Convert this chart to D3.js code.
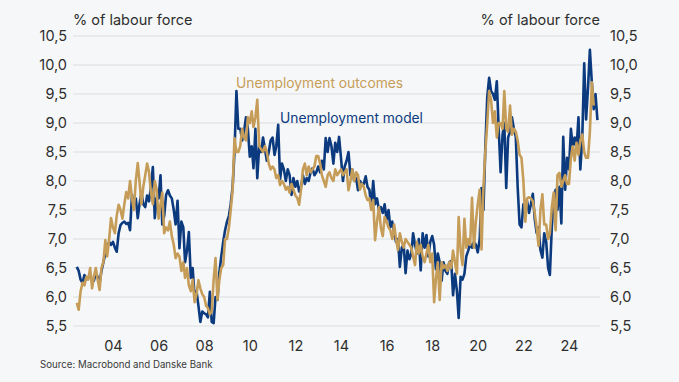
<!DOCTYPE html>
<html>
<head>
<meta charset="utf-8">
<script src="https://cdn.jsdelivr.net/npm/d3@7"></script>
<style>
  body { margin: 0; background: #f6f7f8; }
  svg { display: block; font-family: Inter, "Noto Sans", sans-serif; }
</style>
</head>
<body>
<svg id="chart" width="679" height="382"></svg>
<script>
// Monthly series, first value = June 2002
var startYear = 2002, startMonth = 5;

// Unemployment model (navy)
var modelValues = [
  6.52, 6.45, 6.3, 6.24, 6.38, 6.3, 6.35,
  6.35, 6.3, 6.28, 6.4, 6.35, 6.24, 6.45, 6.6, 6.75, 6.85, 6.95, 6.9,
  6.95, 6.85, 6.78, 7.1, 7.24, 7.28, 7.3, 7.26, 7.28, 7.15, 7.76, 7.6,
  7.7, 7.36, 7.6, 7.8, 7.6, 7.55, 7.75, 7.65, 7.9, 8.24, 7.36, 7.7,
  7.7, 8.1, 7.25, 7.4, 7.76, 7.84, 7.75, 7.7, 7.5, 7.25, 7.66, 6.84,
  7.3, 7.2, 6.6, 6.8, 7.12, 6.33, 6.5, 6.0, 6.1, 5.85, 5.57, 5.75,
  5.72, 5.7, 5.65, 6.09, 5.57, 5.55, 6.0, 5.95, 6.43, 6.7, 6.95, 7.15,
  7.3, 7.4, 7.6, 7.9, 8.5, 9.55, 8.9, 8.9, 8.7, 8.85, 9.1, 8.9,
  8.42, 8.6, 8.22, 8.9, 8.05, 8.6, 8.5, 8.75, 8.55, 8.35, 8.5, 8.7,
  8.75, 8.45, 8.6, 8.97, 8.03, 8.3, 8.2, 8.0, 8.2, 8.1, 7.76, 8.05,
  7.9, 8.0, 7.82, 7.9, 8.1, 7.95, 8.05, 8.0, 8.15, 8.22, 8.1, 8.15,
  8.25, 8.15, 8.35, 8.2, 8.74, 8.5, 8.74, 8.6, 8.3, 8.66, 8.5, 8.76,
  8.4, 8.0, 8.25, 8.35, 8.5, 8.1, 8.2, 8.0, 8.05, 7.84, 8.0, 7.95,
  7.95, 8.08, 7.9, 7.85, 7.55, 8.0, 7.6, 7.7, 7.5, 7.55, 7.45, 7.6,
  7.33, 7.5, 7.2, 7.3, 7.1, 6.95, 7.0, 6.52, 6.85, 6.9, 6.41, 6.8,
  6.65, 6.75, 7.1, 6.9, 6.75, 7.0, 6.46, 7.1, 6.85, 7.07, 6.7, 6.95,
  7.05, 6.9, 6.48, 6.75, 6.6, 6.28, 6.6, 6.45, 6.4, 6.6, 6.62, 6.03,
  6.4, 6.1, 5.64, 6.35, 6.3, 6.4, 6.7, 6.8, 6.92, 6.85, 6.95, 6.9,
  6.77, 7.0, 7.88, 7.5, 8.57, 9.45, 9.78, 9.55, 9.5, 9.4, 9.72, 8.9,
  8.15, 8.8, 9.0, 7.88, 8.75, 8.85, 9.1, 8.9, 8.76, 7.9, 7.25, 7.2,
  7.6, 7.55, 7.65, 7.45, 7.6, 7.78, 7.35, 7.1, 7.2, 6.81, 6.68, 7.1,
  6.95, 6.5, 6.38, 7.2, 7.68, 7.85, 7.5, 7.9, 7.27, 8.76, 7.85, 8.4,
  8.2, 8.9, 8.6, 8.75, 8.55, 9.1, 8.2, 8.75, 10.03, 9.06, 9.6, 10.26,
  9.7, 9.24, 9.5, 9.05
];

// Unemployment outcomes (gold)
var outcomeValues = [
  5.9, 5.78, 6.1, 6.25, 6.2, 6.35, 6.3,
  6.5, 6.15, 6.35, 6.5, 6.3, 6.12, 6.5, 6.6, 6.98, 6.7, 7.0, 7.36,
  7.2, 7.1, 7.4, 7.59, 7.5, 7.35, 7.6, 7.81, 7.7, 8.0, 7.7, 7.5,
  8.0, 8.31, 8.0, 7.6, 7.9, 8.1, 8.3, 8.15, 7.8, 7.6, 8.0, 7.85,
  7.35, 7.6, 7.8, 7.1, 7.2, 7.15, 7.3, 7.05, 6.9, 6.67, 6.75, 6.7,
  6.45, 6.6, 6.33, 6.5, 6.2, 6.1, 6.3, 5.91, 6.05, 6.29, 6.15, 6.05,
  6.0, 5.85, 5.81, 5.7, 5.75, 6.3, 6.67, 5.95, 6.3, 6.5, 6.55, 7.0,
  7.0, 7.2, 7.5, 7.85, 8.74, 8.5, 8.5, 8.6, 8.9, 8.75, 8.7, 9.1,
  9.0, 9.2, 8.93, 9.1, 9.4, 8.6, 8.55, 8.5, 8.6, 8.5, 8.3, 8.2,
  8.25, 8.2, 8.05, 8.1, 7.93, 8.0, 7.95, 7.85, 7.9, 7.8, 7.95, 7.85,
  7.75, 7.71, 7.59, 7.85, 8.2, 8.3, 8.1, 8.25, 8.15, 8.2, 8.25, 8.43,
  8.43, 8.3, 8.1, 8.0, 7.9, 8.1, 8.15, 8.05, 8.0, 8.2, 8.1, 8.15,
  8.2, 8.1, 8.15, 8.2, 7.84, 8.0, 8.2, 8.0, 8.15, 8.1, 7.85, 7.95,
  7.9, 7.75, 7.67, 7.7, 7.5, 7.67, 6.98, 7.3, 7.55, 7.2, 7.05, 7.38,
  7.3, 7.2, 7.15, 7.0, 7.25, 7.0, 6.81, 7.1, 6.95, 6.85, 7.0, 6.95,
  6.9, 6.85, 6.7, 6.55, 6.95, 6.75, 6.9, 6.7, 6.6, 6.75, 6.9, 6.6,
  6.75, 5.91, 6.3, 6.6, 5.95, 6.6, 6.5, 6.55, 6.45, 6.6, 6.5, 6.8,
  6.6, 6.4, 7.38, 6.8, 6.55, 7.35, 6.85, 7.0, 6.9, 7.71, 6.85, 7.3,
  7.6, 7.85, 6.82, 7.9, 8.5, 9.0, 9.55, 9.4, 9.0, 9.2, 8.75, 9.0,
  9.0, 8.9, 9.55, 8.9, 8.85, 9.3, 8.8, 8.9, 8.85, 8.7, 8.45, 8.4,
  8.0, 7.3, 7.7, 7.72, 7.7, 7.65, 7.45, 7.2, 6.88, 7.5, 7.77, 7.25,
  7.25, 7.0, 7.1, 7.55, 7.8, 7.15, 8.1, 8.14, 7.9, 8.0, 8.1, 7.95,
  7.95, 8.4, 8.6, 8.35, 8.66, 8.45, 8.7, 8.8, 8.5, 8.4, 8.4, 8.85,
  9.7, 9.3
];

var yTicks = [5.5, 6.0, 6.5, 7.0, 7.5, 8.0, 8.5, 9.0, 9.5, 10.0, 10.5];
var xTickYears = [2004, 2006, 2008, 2010, 2012, 2014, 2016, 2018, 2020, 2022, 2024];

var seriesNames = ["Unemployment outcomes", "Unemployment model"];
var colors = { model: "#0b3a7f", outcome: "#c69d58" };

var chart = {};
chart.margin = { left: 73, right: 79, top: 36, bottom: 56 };
chart.width = 679;
chart.height = 382;

var svg = d3.select("#chart");

var x = d3.scaleTime()
  .domain([new Date(2002, 3, 1), new Date(2025, 4, 12)])
  .range([chart.margin.left, chart.width - chart.margin.right]);

var y = d3.scaleLinear()
  .domain([5.5, 10.5])
  .range([chart.height - chart.margin.bottom, chart.margin.top]);

var toPoints = (vals) => vals.map((v, i) => ({ date: new Date(startYear, startMonth + i, 1), value: v }));
var modelData = toPoints(modelValues);
var outcomeData = toPoints(outcomeValues);

var commaFmt = (d) => d3.format(".1f")(d).replace(".", ",");

// Gridlines
svg.append("g")
  .selectAll("line")
  .data(yTicks)
  .enter()
  .append("line")
  .attr("x1", x.range()[0])
  .attr("x2", x.range()[1])
  .attr("y1", (d) => y(d))
  .attr("y2", (d) => y(d))
  .attr("stroke", "#dcdddf")
  .attr("stroke-width", 1);

// Left axis
var yLeft = svg.append("g")
  .attr("transform", "translate(" + (x.range()[0] - 6) + ",0)")
  .call(d3.axisLeft(y).tickValues(yTicks).tickFormat(commaFmt).tickSize(0).tickPadding(0));

// Right axis
var yRight = svg.append("g")
  .attr("transform", "translate(" + (x.range()[1] + 10) + ",0)")
  .call(d3.axisRight(y).tickValues(yTicks).tickFormat(commaFmt).tickSize(0).tickPadding(0));

// Bottom axis
var xAxis = svg.append("g")
  .attr("transform", "translate(0," + (chart.height - chart.margin.bottom + 12) + ")")
  .call(d3.axisBottom(x)
    .tickValues(xTickYears.map((yr) => new Date(yr, 0, 1)))
    .tickFormat(d3.timeFormat("%y"))
    .tickSize(0).tickPadding(0));

[yLeft, yRight, xAxis].forEach((g) => {
  g.select(".domain").remove();
  g.selectAll("text")
    .attr("fill", "#2e2e2e")
    .style("font-size", "14.5px")
    .style("font-family", "Inter, 'Noto Sans', sans-serif");
});
xAxis.selectAll("text").attr("dy", "0.71em").attr("y", 3);

// Lines
var line = d3.line()
  .x((d) => x(d.date))
  .y((d) => y(d.value));

svg.append("path")
  .datum(modelData)
  .attr("fill", "none")
  .attr("stroke", colors.model)
  .attr("stroke-width", 2.6)
  .attr("stroke-linejoin", "round")
  .attr("d", line);

svg.append("path")
  .datum(outcomeData)
  .attr("fill", "none")
  .attr("stroke", colors.outcome)
  .attr("stroke-width", 2.6)
  .attr("stroke-linejoin", "round")
  .attr("d", line);

// Axis titles
svg.append("text")
  .attr("x", x.range()[0])
  .attr("y", 25)
  .attr("fill", "#2e2e2e")
  .style("font-size", "14.5px")
  .text("% of labour force");

svg.append("text")
  .attr("x", x.range()[1])
  .attr("y", 25)
  .attr("text-anchor", "end")
  .attr("fill", "#2e2e2e")
  .style("font-size", "14.5px")
  .text("% of labour force");

// Series labels
svg.append("text")
  .attr("x", 236)
  .attr("y", 88)
  .attr("fill", colors.outcome)
  .style("font-size", "13.8px")
  .text(seriesNames[0]);

svg.append("text")
  .attr("x", 280)
  .attr("y", 123)
  .attr("fill", colors.model)
  .style("font-size", "13.8px")
  .text(seriesNames[1]);

// Source
svg.append("text")
  .attr("x", 40)
  .attr("y", 368)
  .attr("fill", "#3a3a3a")
  .style("font-size", "9.7px")
  .text("Source: Macrobond and Danske Bank");
</script>
</body>
</html>
